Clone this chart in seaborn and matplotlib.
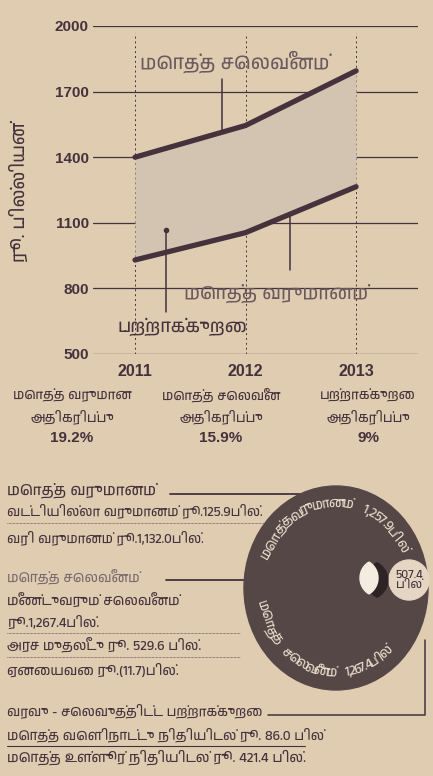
import numpy as np
import pandas as pd
import matplotlib
matplotlib.use("Agg")
import matplotlib.pyplot as plt
import matplotlib.font_manager as fm
from matplotlib.ft2font import FT2Font
from matplotlib.patches import Ellipse, Circle, Polygon
import seaborn as sns

# ---------------- data ----------------
years = [2011, 2012, 2013]
expenditure = [1400, 1545, 1795]
revenue = [930, 1055, 1265]
yticks = [500, 800, 1100, 1400, 1700, 2000]
ylabel = "ரூ. பில்லியன்"
exp_label = "மொத்த செலவீனம்"
rev_label = "மொத்த வருமானம்"
deficit_label = "பற்றாக்குறை"
growth_titles = ["மொத்த வருமான\nஅதிகரிப்பு", "மொத்த செலவீன\nஅதிகரிப்பு", "பற்றாக்குறை\nஅதிகரிப்பு"]
growth_values = ["19.2%", "15.9%", "9%"]
rev_lines = ["வட்டியில்லா வருமானம் ரூ.125.9பில்.", "வரி வருமானம் ரூ.1,132.0பில்."]
exp_lines = ["மீண்டுவரும் செலவீனம்", "ரூ.1,267.4பில்.", "அரச முதலீடு ரூ. 529.6 பில்.", "ஏனையவை ரூ.(11.7)பில்."]
deficit_title = "வரவு - செலவுத்திட்ட பற்றாக்குறை"
deficit_lines = ["மொத்த வெளிநாட்டு நிதியிடல் ரூ. 86.0 பில்", "மொத்த உள்ளூர் நிதியிடல் ரூ. 421.4 பில்."]
circle_rev_text = "மொத்தவருமானம் 1,257.9பில்"
circle_exp_text = "மொத்த செலவீனம் 1,267.4பில்"
circle_deficit = "507.4\nபில்"

# ---------------- fonts ----------------
sns.set_theme(style="white")
best, best_score = None, -99
for f in fm.fontManager.ttflist:
    try:
        cm = FT2Font(f.fname).get_charmap()
    except Exception:
        continue
    if 0x0BAE not in cm:
        continue
    sc = 0
    if "Tamil" in f.name:
        sc += 3
    if "Mono" in f.name or "mono" in f.fname.lower():
        sc -= 6
    if "UI" in f.name:
        sc -= 1
    if "Serif" in f.name:
        sc -= 1
    if sc > best_score:
        best, best_score = f.name, sc
TAM = [best, "DejaVu Sans"] if best else ["DejaVu Sans"]
NUM = ["Liberation Sans", "DejaVu Sans"]
plt.rcParams["font.family"] = TAM

BG = "#e0ccb1"
INK = "#45323c"
DARK = "#564747"
FILL = "#d3c4b1"

W, H = 433, 776
fig = plt.figure(figsize=(W / 100, H / 100), dpi=100, facecolor=BG)

# ---------------- chart ----------------
ax = fig.add_axes([93 / W, 1 - 354 / H, 325 / W, 328 / H])
ax.set_facecolor(BG)
df = pd.DataFrame({"year": years * 2,
                   "value": expenditure + revenue,
                   "series": ["exp"] * 3 + ["rev"] * 3})
for y in yticks:
    ax.axhline(y, color=INK, lw=0.9, zorder=1)
for yr in years:
    ax.axvline(yr, ymin=0.0, ymax=0.98, color=INK, lw=0.7, ls=(0, (2, 3)), zorder=1)
ax.fill_between(years, revenue, expenditure, color=FILL, zorder=2, lw=0)
sns.lineplot(data=df, x="year", y="value", units="series", estimator=None,
             color=INK, lw=3.8, ax=ax, zorder=3, solid_capstyle="round")
ax.set_xlim(2010.62, 2013.56)
ax.set_ylim(500, 2000)
ax.set_yticks(yticks)
ax.set_xticks(years)
ax.set_yticklabels([str(v) for v in yticks], fontfamily=NUM, fontweight="bold", fontsize=11, color=INK)
ax.set_xticklabels([str(v) for v in years], fontfamily=NUM, fontweight="bold", fontsize=11.5, color=INK)
ax.tick_params(axis="y", length=0, pad=3)
ax.tick_params(axis="x", length=0, pad=7)
ax.set_xlabel("")
ax.set_ylabel("")
for s in ax.spines.values():
    s.set_visible(False)
ax.grid(False)

# ---------------- overlay (pixel coordinates) ----------------
ov = fig.add_axes([0, 0, 1, 1], facecolor="none")
ov.set_xlim(0, W)
ov.set_ylim(H, 0)
ov.axis("off")

ov.text(18, 192, ylabel, rotation=90, ha="center", va="center", fontsize=13, color=INK)

# chart annotations
ov.text(235, 62, exp_label, ha="center", va="center", fontsize=14, color="#6a5a5e")
ov.plot([222, 222], [79, 130], color=INK, lw=1.1)
ov.text(276, 293, rev_label, ha="center", va="center", fontsize=13.6, color="#6a5a5e")
ov.plot([290, 290], [215, 270], color=INK, lw=1.1)
ov.text(182, 327, deficit_label, ha="center", va="center", fontsize=13, color=INK)
ov.plot([166, 166], [230, 312], color=INK, lw=1.1)
ov.plot([166], [230], "o", color=INK, ms=3)

# growth stats
for cx, t, v in zip([72, 221, 368], growth_titles, growth_values):
    l1, l2 = t.split("\n")
    ov.text(cx, 395, l1, ha="center", va="center", fontsize=9.6, color=INK)
    ov.text(cx, 417, l2, ha="center", va="center", fontsize=9.6, color=INK)
    ov.text(cx, 438, v, ha="center", va="center", fontsize=11, fontweight="bold",
            fontfamily=NUM, color=INK)

# lower text block
ov.text(7, 490, rev_label, ha="left", va="center", fontsize=11, color=INK)
ov.plot([170, 300], [494, 494], color=INK, lw=1.3)
ov.text(7, 511, rev_lines[0], ha="left", va="center", fontsize=9.6, fontweight="bold", color=INK)
ov.plot([7, 265], [523, 523], color=INK, lw=0.5, ls=(0, (1, 1)))
ov.text(7, 538, rev_lines[1], ha="left", va="center", fontsize=9.6, fontweight="bold", color=INK)

ov.text(7, 577, exp_label, ha="left", va="center", fontsize=9.8, color="#7a6a6e")
ov.plot([166, 247], [580, 580], color=INK, lw=1.3)
ov.text(7, 600, exp_lines[0], ha="left", va="center", fontsize=9.8, fontweight="bold", color=INK)
ov.text(7, 622, exp_lines[1], ha="left", va="center", fontsize=9.8, fontweight="bold", color=INK)
ov.plot([7, 240], [633, 633], color=INK, lw=0.5, ls=(0, (1, 1)))
ov.text(7, 645, exp_lines[2], ha="left", va="center", fontsize=9.8, fontweight="bold", color=INK)
ov.plot([7, 240], [657, 657], color=INK, lw=0.5, ls=(0, (1, 1)))
ov.text(7, 670, exp_lines[3], ha="left", va="center", fontsize=9.8, fontweight="bold", color=INK)

ov.text(7, 711, deficit_title, ha="left", va="center", fontsize=9.6, color=INK)
ov.plot([268, 425, 425], [715, 715, 640], color=INK, lw=1.1)
ov.text(7, 735, deficit_lines[0], ha="left", va="center", fontsize=9.7, fontweight="bold", color=INK)
ov.plot([7, 305], [746, 746], color=INK, lw=0.8)
ov.text(7, 757, deficit_lines[1], ha="left", va="center", fontsize=10, fontweight="bold", color=INK)

# circle diagram
CX, CY = 336, 588
ov.add_patch(Ellipse((CX, CY), 184, 204, color=DARK, zorder=5))
ov.add_patch(Circle((409, 580), 20, color="#e4d6c2", zorder=6))
ov.text(409, 580, circle_deficit, ha="center", va="center", fontsize=8.5,
        fontweight="bold", color=INK, zorder=7, linespacing=0.85)
# lens-shaped hole
R, d = 18.72, 9.72
t = np.linspace(-np.arcsin(16 / R), np.arcsin(16 / R), 30)
lx = np.r_[d - R * np.cos(t), (-d + R * np.cos(t))[::-1]]
ly = np.r_[R * np.sin(t), (R * np.sin(t))[::-1]]
ov.add_patch(Polygon(np.c_[lx * 1.2 + 377, ly * 1.08 + 580], closed=True, color="#2e2426", zorder=6))
ov.add_patch(Polygon(np.c_[lx + 369, ly + 578], closed=True, color="#f4ece0", zorder=7))


def clusters(s):
    out = []
    for ch in s:
        if out and (0x0BBE <= ord(ch) <= 0x0BCD or ord(ch) == 0x0BD7):
            out[-1] += ch
        else:
            out.append(ch)
    return out


renderer = fig.canvas.get_renderer()
ARC_FS = 9.5


def arc_text(text, a0, a1, rx, ry, top_out):
    cl = clusters(text)
    prop = fm.FontProperties(family=TAM, size=ARC_FS)
    ws = []
    for c in cl:
        if c == " ":
            ws.append(ARC_FS * 1.1 * 100 / 72)
        else:
            w, h, dd = renderer.get_text_width_height_descent(c, prop, ismath=False)
            ws.append(w * 1.08)
    ws = np.array(ws)
    centers = np.cumsum(ws) - ws / 2
    frac = centers / ws.sum()
    for c, f in zip(cl, frac):
        if c == " ":
            continue
        a = a0 + (a1 - a0) * f
        r = np.deg2rad(a)
        x = CX + rx * np.cos(r)
        y = CY - ry * np.sin(r)
        rot = a - 90 if top_out else a + 90
        ov.text(x, y, c, rotation=rot, rotation_mode="anchor", ha="center", va="center",
                fontsize=ARC_FS, color="#e8dccb", zorder=8)


arc_text(circle_rev_text, 160, 25, 75, 85, True)
arc_text(circle_exp_text, 190, 315, 75, 85, False)

fig.savefig("out.png", dpi=100, facecolor=BG)
